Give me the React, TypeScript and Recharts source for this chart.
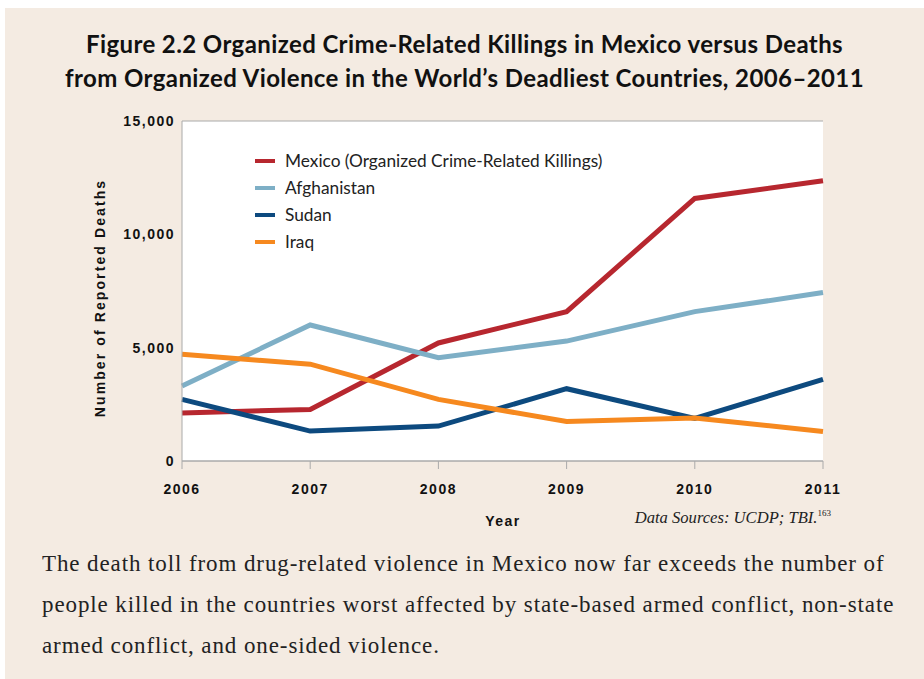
import {
  CartesianGrid,
  Line,
  LineChart,
  XAxis,
  YAxis,
} from "recharts";

const years = ["2006", "2007", "2008", "2009", "2010", "2011"];
const mexico = [2119, 2275, 5207, 6587, 11583, 12366];
const afghanistan = [3310, 6000, 4560, 5290, 6590, 7430];
const sudan = [2720, 1320, 1540, 3190, 1880, 3600];
const iraq = [4710, 4270, 2720, 1740, 1900, 1300];
const yTicks = [0, 5000, 10000, 15000];

const series = [
  { key: "mexico", name: "Mexico (Organized Crime-Related Killings)", color: "#b7272f" },
  { key: "afghanistan", name: "Afghanistan", color: "#7eafc6" },
  { key: "sudan", name: "Sudan", color: "#0d4a7f" },
  { key: "iraq", name: "Iraq", color: "#f6891f" },
];

const data = years.map((year, i) => ({
  year,
  mexico: mexico[i],
  afghanistan: afghanistan[i],
  sudan: sudan[i],
  iraq: iraq[i],
}));

const axisFont = "'Liberation Sans', Arial, sans-serif";

// legend sits inside the plot, white box hides part of the 10,000 gridline
function ChartLegend() {
  return (
    <div
      style={{
        position: "absolute",
        left: 233,
        top: 139,
        background: "#fff",
        width: 124,
        fontFamily: "Lato, sans-serif",
        fontSize: 17.3,
        color: "#222",
        whiteSpace: "nowrap",
      }}
    >
      {series.map((s) => (
        <div
          key={s.key}
          style={{ height: 27, display: "flex", alignItems: "center", paddingLeft: 17 }}
        >
          <span
            style={{ display: "inline-block", flex: "none", width: 20, height: 4, background: s.color, marginRight: 10 }}
          />
          <span>{s.name}</span>
        </div>
      ))}
    </div>
  );
}

export default function App() {
  return (
    <div
      style={{
        position: "fixed",
        left: 5,
        top: 8,
        width: 919,
        height: 671,
        background: "#f4ebe2",
        overflow: "hidden",
      }}
    >
      <div
        style={{
          position: "absolute",
          top: 19,
          left: 0,
          width: 919,
          textAlign: "center",
          fontFamily: "Lato, sans-serif",
          fontWeight: 700,
          fontSize: 24,
          letterSpacing: 0.4,
          lineHeight: "34px",
          color: "#111",
        }}
      >
        Figure 2.2 Organized Crime-Related Killings in Mexico versus Deaths
        <br />
        from Organized Violence in the World’s Deadliest Countries, 2006–2011
      </div>

      <LineChart
        width={919}
        height={560}
        data={data}
        margin={{ top: 113, right: 101, bottom: 77, left: 117 }}
        style={{ position: "absolute", left: 0, top: 0 }}
      >
        <CartesianGrid vertical={false} stroke="#aaa" fill="#fff" />
        <XAxis
          dataKey="year"
          height={30}
          stroke="#aaa"
          tickSize={8}
          tickMargin={15}
          tick={{ fill: "#111", fontFamily: axisFont, fontWeight: 700, fontSize: 14, letterSpacing: 1.5 }}
        />
        <YAxis
          yAxisId="left"
          width={60}
          domain={[0, 15000]}
          ticks={yTicks}
          stroke="#aaa"
          tickSize={0}
          tickMargin={7}
          tickFormatter={(v: number) => v.toLocaleString("en-US")}
          tick={{ fill: "#111", fontFamily: axisFont, fontWeight: 700, fontSize: 14, letterSpacing: 1.5 }}
        />
        <YAxis
          yAxisId="right"
          orientation="right"
          width={0}
          domain={[0, 15000]}
          ticks={yTicks}
          stroke="#aaa"
          tick={false}
        />
        {series.map((s) => (
          <Line
            key={s.key}
            yAxisId="left"
            type="linear"
            dataKey={s.key}
            name={s.name}
            stroke={s.color}
            strokeWidth={5}
            strokeLinejoin="miter"
            dot={false}
            activeDot={false}
            isAnimationActive={false}
          />
        ))}
      </LineChart>

      <ChartLegend />

      <div
        style={{
          position: "absolute",
          left: 95,
          top: 290,
          transform: "translate(-50%, -50%) rotate(-90deg)",
          whiteSpace: "nowrap",
          fontFamily: axisFont,
          fontWeight: 700,
          fontSize: 14,
          letterSpacing: 2.1,
          color: "#111",
        }}
      >
        Number of Reported Deaths
      </div>

      <div
        style={{
          position: "absolute",
          left: 498,
          top: 505,
          transform: "translateX(-50%)",
          fontFamily: axisFont,
          fontWeight: 700,
          fontSize: 14,
          letterSpacing: 1.5,
          color: "#111",
        }}
      >
        Year
      </div>

      <div
        style={{
          position: "absolute",
          right: 919 - 826,
          top: 500,
          fontFamily: "'Liberation Serif', serif",
          fontStyle: "italic",
          fontSize: 16.6,
          color: "#222",
          whiteSpace: "nowrap",
        }}
      >
        Data Sources: UCDP; TBI.<sup style={{ fontSize: 9, fontStyle: "normal" }}>163</sup>
      </div>

      <div
        style={{
          position: "absolute",
          left: 37,
          top: 535,
          fontFamily: "'Liberation Serif', serif",
          fontSize: 23,
          lineHeight: "41px",
          color: "#222",
          whiteSpace: "nowrap",
          letterSpacing: 0.9,
        }}
      >
        <div>The death toll from drug-related violence in Mexico now far exceeds the number of</div>
        <div>people killed in the countries worst affected by state-based armed conflict, non-state</div>
        <div>armed conflict, and one-sided violence.</div>
      </div>
    </div>
  );
}
